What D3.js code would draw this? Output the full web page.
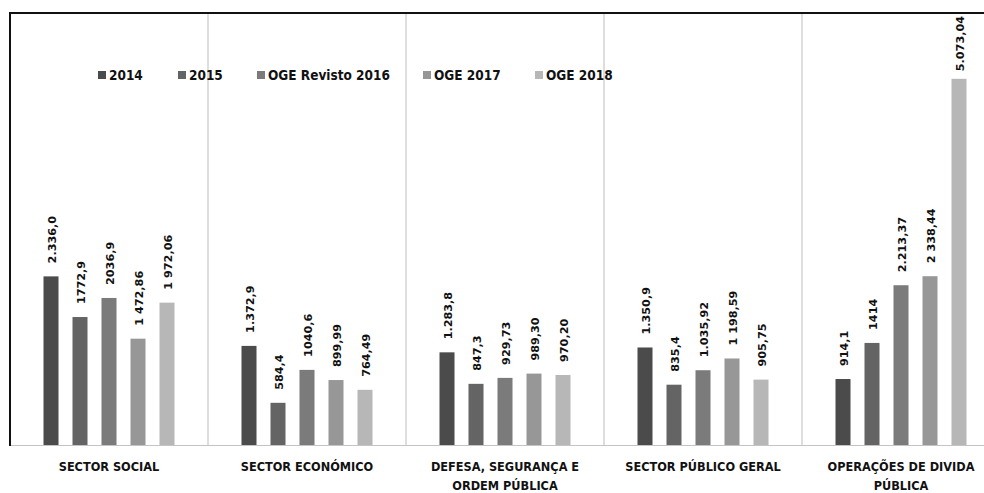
<!DOCTYPE html>
<html><head><meta charset="utf-8">
<script src="https://cdn.jsdelivr.net/npm/d3@7"></script>
<style>
html,body{margin:0;padding:0;background:#fff;}
svg{display:block;}
</style></head>
<body>
<svg id="chart" width="984" height="493"></svg>
<script>
const categories = [
  ["SECTOR SOCIAL"],
  ["SECTOR ECONÓMICO"],
  ["DEFESA, SEGURANÇA E", "ORDEM PÚBLICA"],
  ["SECTOR PÚBLICO GERAL"],
  ["OPERAÇÕES DE DIVIDA", "PÚBLICA"]
];
const seriesNames = ["2014", "2015", "OGE Revisto 2016", "OGE 2017", "OGE 2018"];
const seriesColors = ["#4b4b4b", "#646464", "#7b7b7b", "#979797", "#b7b7b7"];
const v2014 = [2336.0, 1372.9, 1283.8, 1350.9, 914.1];
const v2015 = [1772.9, 584.4, 847.3, 835.4, 1414];
const v2016 = [2036.9, 1040.6, 929.73, 1035.92, 2213.37];
const v2017 = [1472.86, 899.99, 989.30, 1198.59, 2338.44];
const v2018 = [1972.06, 764.49, 970.20, 905.75, 5073.04];
const l2014 = ["2.336,0", "1.372,9", "1.283,8", "1.350,9", "914,1"];
const l2015 = ["1772,9", "584,4", "847,3", "835,4", "1414"];
const l2016 = ["2036,9", "1040,6", "929,73", "1.035,92", "2.213,37"];
const l2017 = ["1 472,86", "899,99", "989,30", "1 198,59", "2 338,44"];
const l2018 = ["1 972,06", "764,49", "970,20", "905,75", "5.073,04"];

const seriesValues = [v2014, v2015, v2016, v2017, v2018];
const seriesLabels = [l2014, l2015, l2016, l2017, l2018];

const svg = d3.select("#chart");
const catKeys = categories.map(c => c.join(" "));
const x0 = d3.scaleBand().domain(catKeys).range([10, 1000]).padding(0);
const x1 = d3.scaleBand().domain(seriesNames).range([33.5, 164.5]).paddingInner(14/29).paddingOuter(0);
const y = d3.scaleLinear().domain([0, 5500]).range([445, 48]);

// separators
const seps = catKeys.slice(1).map(k => x0(k));
svg.append("g").selectAll("line").data(seps).join("line")
  .attr("x1", d => d).attr("x2", d => d).attr("y1", 14).attr("y2", 446)
  .attr("stroke", "#c8c8c8").attr("stroke-width", 1.2);

// axis line
svg.append("line").attr("x1", 10).attr("x2", 984).attr("y1", 445.5).attr("y2", 445.5)
  .attr("stroke", "#c4c4c4").attr("stroke-width", 1.2);

// bars
const data = [];
catKeys.forEach((k, ci) => {
  seriesNames.forEach((s, si) => {
    data.push({cat: k, ser: s, si, value: seriesValues[si][ci], label: seriesLabels[si][ci]});
  });
});
svg.append("g").selectAll("rect").data(data).join("rect")
  .attr("x", d => x0(d.cat) + x1(d.ser))
  .attr("y", d => y(d.value))
  .attr("width", x1.bandwidth())
  .attr("height", d => y(0) - y(d.value))
  .attr("fill", d => seriesColors[d.si]);

// value labels
const lblG = svg.append("g");
data.forEach(d => {
  const cx = x0(d.cat) + x1(d.ser) + x1.bandwidth() / 2 + 1;
  const t = lblG.append("text")
    .attr("font-family", "DejaVu Sans, sans-serif")
    .attr("font-weight", "bold")
    .attr("font-size", 11.2)
    .attr("fill", "#111")
    .attr("dy", "0.35em")
    .text(d.label);
  const len = t.node().getComputedTextLength();
  let by = y(d.value) - 13;
  if (by - len < 16) by = 16 + len;
  t.attr("transform", `translate(${cx},${by}) rotate(-90)`);
});

// borders
svg.append("line").attr("x1", 10).attr("x2", 10).attr("y1", 12).attr("y2", 446)
  .attr("stroke", "#111").attr("stroke-width", 2);
svg.append("line").attr("x1", 9).attr("x2", 984).attr("y1", 13).attr("y2", 13)
  .attr("stroke", "#111").attr("stroke-width", 2);

// category labels
const catG = svg.append("g");
categories.forEach((lines, i) => {
  const cx = x0(catKeys[i]) + x0.bandwidth() / 2;
  lines.forEach((ln, j) => {
    catG.append("text")
      .attr("x", cx).attr("y", 470.5 + j * 19)
      .attr("text-anchor", "middle")
      .attr("font-family", "DejaVu Sans Condensed, DejaVu Sans, sans-serif")
      .attr("font-stretch", "condensed")
      .attr("font-weight", "bold")
      .attr("font-size", 12.6)
      .attr("fill", "#111")
      .text(ln);
  });
});

// legend
const legendX = [98, 178, 257, 423, 535];
const lg = svg.append("g");
seriesNames.forEach((s, i) => {
  lg.append("rect").attr("x", legendX[i]).attr("y", 71).attr("width", 8).attr("height", 8)
    .attr("fill", seriesColors[i]);
  lg.append("text").attr("x", legendX[i] + 11).attr("y", 75.5).attr("dy", "0.35em")
    .attr("font-family", "DejaVu Sans Condensed, DejaVu Sans, sans-serif")
    .attr("font-stretch", "condensed")
    .attr("font-weight", "bold")
    .attr("font-size", 13.5)
    .attr("fill", "#111")
    .text(s);
});
</script>
</body></html>
